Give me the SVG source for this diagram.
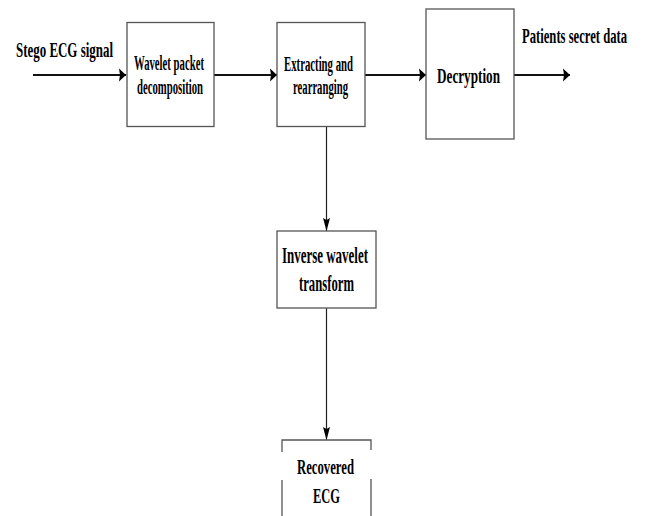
<svg xmlns="http://www.w3.org/2000/svg" width="645" height="516" viewBox="0 0 645 516">
<style>
.box{fill:#fff;stroke:#555;stroke-width:1.3}
.edge{fill:none;stroke:#555;stroke-width:1.3}
.h{stroke:#111;stroke-width:1.8;fill:none}
.v{stroke:#222;stroke-width:1.2;fill:none}
text{font-family:"Liberation Serif","Times New Roman",serif;font-weight:bold;fill:#000}
</style>
<defs>
<marker id="ah" markerUnits="userSpaceOnUse" markerWidth="10" markerHeight="16" refX="7" refY="7" orient="0">
<path d="M0,0.5 L7,7 L0,13.5 L1,7 Z" fill="#000"/>
</marker>
<marker id="av" markerUnits="userSpaceOnUse" markerWidth="10" markerHeight="16" refX="4" refY="13" orient="0">
<path d="M0.5,0 L4,13 L7.5,0 L4,2 Z" fill="#000"/>
</marker>
</defs>
<rect width="645" height="516" fill="#fff"/>
<g id="connectors">
<line class="h" x1="33" y1="75" x2="126" y2="75" marker-end="url(#ah)"/>
<line class="h" x1="214" y1="75" x2="277" y2="75" marker-end="url(#ah)"/>
<line class="h" x1="365" y1="75" x2="426" y2="75" marker-end="url(#ah)"/>
<line class="h" x1="514" y1="75" x2="570" y2="75" marker-end="url(#ah)"/>
<line class="v" x1="326.5" y1="127" x2="326.5" y2="231" marker-end="url(#av)"/>
<line class="v" x1="326.5" y1="308" x2="326.5" y2="440" marker-end="url(#av)"/>
</g>
<g id="label-input">
<text x="16" y="57" font-size="21" textLength="97" lengthAdjust="spacingAndGlyphs">Stego ECG signal</text>
</g>
<g id="label-output">
<text x="522" y="43" font-size="21" textLength="105" lengthAdjust="spacingAndGlyphs">Patients secret data</text>
</g>
<g id="node-wavelet">
<rect class="box" x="127" y="22.5" width="87" height="104"/>
<text x="134" y="70" font-size="20" textLength="70" lengthAdjust="spacingAndGlyphs">Wavelet packet</text>
<text x="137" y="94" font-size="20" textLength="66" lengthAdjust="spacingAndGlyphs">decomposition</text>
</g>
<g id="node-extract">
<rect class="box" x="277" y="22.5" width="88" height="104"/>
<text x="284" y="71" font-size="20" textLength="69" lengthAdjust="spacingAndGlyphs">Extracting and</text>
<text x="293" y="94" font-size="20" textLength="55" lengthAdjust="spacingAndGlyphs">rearranging</text>
</g>
<g id="node-decrypt">
<rect class="box" x="426" y="9" width="88" height="130"/>
<text x="437" y="83" font-size="21" textLength="63" lengthAdjust="spacingAndGlyphs">Decryption</text>
</g>
<g id="node-inverse">
<rect class="box" x="277" y="231" width="99" height="77"/>
<text x="282" y="263" font-size="23" textLength="86" lengthAdjust="spacingAndGlyphs">Inverse wavelet</text>
<text x="299" y="291" font-size="23" textLength="55" lengthAdjust="spacingAndGlyphs">transform</text>
</g>
<g id="node-recovered">
<path class="edge" d="M282,452 V440 H371 V450 M282,480 V516 M371,479 V516"/>
<text x="297" y="474" font-size="22" textLength="57" lengthAdjust="spacingAndGlyphs">Recovered</text>
<text x="313" y="503" font-size="22" textLength="27" lengthAdjust="spacingAndGlyphs">ECG</text>
</g>
</svg>
